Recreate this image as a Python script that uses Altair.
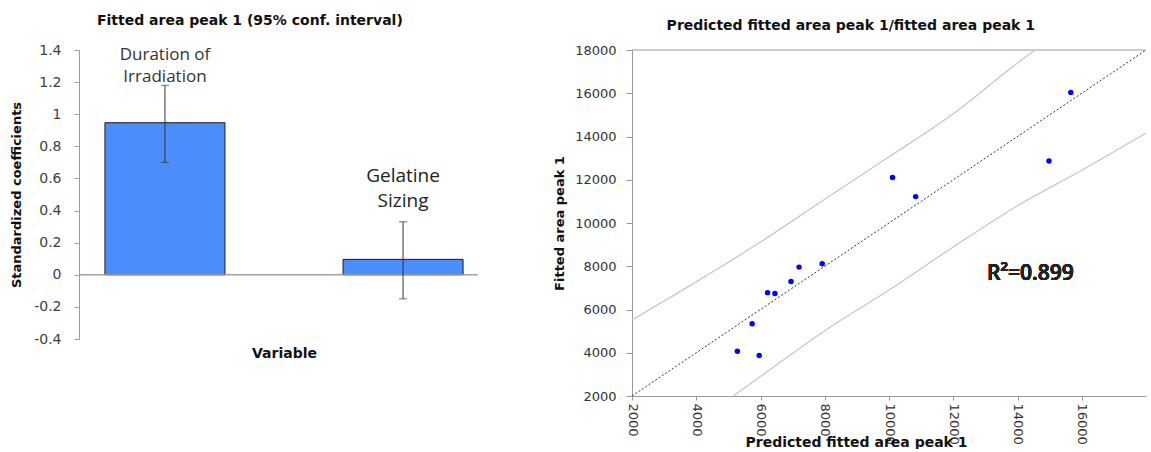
import altair as alt
import pandas as pd

# ---------------- left panel data ----------------
variables = ["Duration of Irradiation", "Gelatine Sizing"]
coefficients = [0.947, 0.096]
ci_low = [0.70, -0.15]
ci_high = [1.18, 0.33]
bar_labels = ["Duration of\nIrradiation", "Gelatine\nSizing"]
label_y = [1.37, 0.615]
left_ticks = [-0.4, -0.2, 0, 0.2, 0.4, 0.6, 0.8, 1.0, 1.2, 1.4]

# ---------------- right panel data ----------------
predicted = [15660, 14980, 10110, 10830, 7920, 7200, 6950, 6220, 6450, 5740, 5280, 5960]
observed = [16040, 12870, 12100, 11220, 8120, 7960, 7300, 6780, 6740, 5340, 4070, 3870]
upper_x = [2000, 4000, 6000, 8000, 10000, 12000, 14000, 14550]
upper_y = [5520, 7280, 9120, 11100, 13060, 15050, 17400, 18000]
lower_x = [5150, 6000, 8000, 10000, 12000, 14000, 16000, 18000]
lower_y = [2000, 2900, 5020, 6900, 8890, 10800, 12440, 14160]
diag = [2000, 18000]
x_ticks = [2000, 4000, 6000, 8000, 10000, 12000, 14000, 16000]
y_ticks = [2000, 4000, 6000, 8000, 10000, 12000, 14000, 16000, 18000]
r2_text = "R\u00b2=0.899"
r2_pos = (13050, 7650)

TICK_FONT = "DejaVu Sans"
TITLE_FONT = "DejaVu Sans"
LABEL_FONT = "Open Sans"
AXIS_GRAY = "#9a9a9a"

# ---------------- left chart ----------------
df_bar = pd.DataFrame({
    "Variable": variables,
    "Coefficient": coefficients,
    "Low": ci_low,
    "High": ci_high,
    "Label": bar_labels,
    "LabelY": label_y,
})

x_left = alt.X(
    "Variable:N", sort=variables,
    scale=alt.Scale(paddingInner=0.496, paddingOuter=0.109),
    axis=alt.Axis(title="Variable", labels=False, ticks=False, domain=False,
                  titleY=14, titleBaseline="middle", titleFont=TITLE_FONT,
                  titleFontSize=14, titleFontWeight="bold", titleColor="#111"),
)
y_left_scale = alt.Scale(domain=[-0.4, 1.4], nice=False, zero=False)
y_left_axis = alt.Axis(
    values=left_ticks, title="Standardized coefficients", labelOverlap=False,
    labelBound=False, labelFlush=False,
    labelExpr="replace(format(datum.value, '.1~f'), '\u2212', '-')",
    labelFont=TICK_FONT, labelFontSize=14, labelColor="#404040", labelPadding=13,
    tickSize=5, tickColor=AXIS_GRAY, domainColor=AXIS_GRAY, grid=False,
    titleFont=TITLE_FONT, titleFontSize=13, titleFontWeight="bold", titleColor="#111",
    titlePadding=10,
)

def yl(field):
    return alt.Y(field, title="Standardized coefficients", scale=y_left_scale, axis=y_left_axis)

base_left = alt.Chart(df_bar)
bars = base_left.mark_bar(color="#4A8DFB", stroke="#1a1a1a", strokeWidth=1).encode(
    x=x_left, y=yl("Coefficient:Q"))
zero_line = base_left.mark_rule(color=AXIS_GRAY, strokeWidth=1).encode(
    x=alt.value(0), x2=alt.value(399),
    y=alt.YDatum(0, scale=y_left_scale, axis=y_left_axis, title="Standardized coefficients"))
err = base_left.mark_rule(color="#333", strokeWidth=1).encode(
    x=x_left, y=yl("Low:Q"), y2="High:Q")
cap_hi = base_left.mark_tick(color="#333", size=8, thickness=1).encode(x=x_left, y=yl("High:Q"))
cap_lo = base_left.mark_tick(color="#333", size=8, thickness=1).encode(x=x_left, y=yl("Low:Q"))
lab1 = base_left.mark_text(font=LABEL_FONT, fontSize=17, lineHeight=22, color="#333",
                           baseline="middle", lineBreak="\n").encode(
    x=x_left, y=yl("LabelY:Q"), text="Label:N").transform_filter(
    alt.datum.Variable == variables[0])
lab2 = base_left.mark_text(font=LABEL_FONT, fontSize=19, lineHeight=25, color="#222",
                           baseline="middle", lineBreak="\n").encode(
    x=x_left, y=yl("LabelY:Q"), text="Label:N").transform_filter(
    alt.datum.Variable == variables[1])

left = alt.layer(bars, zero_line, err, cap_hi, cap_lo, lab1, lab2).properties(
    width=410, height=289,
    title=alt.Title("Fitted area peak 1 (95% conf. interval)", font=TITLE_FONT,
                    fontSize=14, fontWeight="bold", color="#111", anchor="middle",
                    frame="bounds", offset=15),
)

# ---------------- right chart ----------------
xs = alt.Scale(domain=[2000, 18000], nice=False, zero=False)
ys = alt.Scale(domain=[2000, 18000], nice=False, zero=False)
x_axis = alt.Axis(
    values=x_ticks, format="d", labelAngle=90, labelFont=TICK_FONT, labelFontSize=13,
    labelColor="#333", labelPadding=3, tickSize=4, tickColor=AXIS_GRAY,
    domainColor=AXIS_GRAY, grid=False, title="Predicted fitted area peak 1",
    titleFont=TITLE_FONT, titleFontSize=14, titleFontWeight="bold", titleColor="#111",
    titleY=46, titleX=224, titleBaseline="middle",
)
y_axis = alt.Axis(
    values=y_ticks, format="d", labelFont=TICK_FONT, labelFontSize=13, labelColor="#333",
    labelPadding=10, tickSize=6, tickColor=AXIS_GRAY, domainColor=AXIS_GRAY, grid=False,
    title="Fitted area peak 1", titleFont=TITLE_FONT, titleFontSize=13,
    titleFontWeight="bold", titleColor="#111", titlePadding=8,
)

def xr(field):
    return alt.X(field, scale=xs, axis=x_axis, title="Predicted fitted area peak 1")

def yr(field):
    return alt.Y(field, scale=ys, axis=y_axis, title="Fitted area peak 1")

df_pts = pd.DataFrame({"Predicted": predicted, "Observed": observed})
df_up = pd.DataFrame({"Predicted": upper_x, "Observed": upper_y})
df_lo = pd.DataFrame({"Predicted": lower_x, "Observed": lower_y})
df_diag = pd.DataFrame({"Predicted": diag, "Observed": diag})

top_frame = alt.Chart(df_diag).mark_rule(color=AXIS_GRAY, strokeWidth=1).encode(
    y=yr("max(Observed):Q"))
upper = alt.Chart(df_up).mark_line(color="#c8c8c8", strokeWidth=1.3, clip=True,
                                   interpolate="monotone").encode(
    x=xr("Predicted:Q"), y=yr("Observed:Q"))
lower = alt.Chart(df_lo).mark_line(color="#c8c8c8", strokeWidth=1.3, clip=True,
                                   interpolate="monotone").encode(
    x=xr("Predicted:Q"), y=yr("Observed:Q"))
diag_line = alt.Chart(df_diag).mark_line(color="#333", strokeWidth=1, strokeDash=[2, 2]).encode(
    x=xr("Predicted:Q"), y=yr("Observed:Q"))
points = alt.Chart(df_pts).mark_circle(size=30, color="#0000FF", opacity=1).encode(
    x=xr("Predicted:Q"), y=yr("Observed:Q"))
r2 = alt.Chart(df_pts).mark_text(text=r2_text, align="left", baseline="middle",
                                 font=LABEL_FONT, fontSize=21, fontWeight=600,
                                 color="#222").encode(
    x=alt.datum(r2_pos[0]), y=alt.datum(r2_pos[1]))

right = alt.layer(top_frame, upper, lower, diag_line, points, r2).properties(
    width=514, height=346,
    title=alt.Title("Predicted fitted area peak 1/fitted area peak 1", font=TITLE_FONT,
                    fontSize=14, fontWeight="bold", color="#111", anchor="middle",
                    frame="bounds", offset=11),
)

chart = alt.hconcat(left, right, spacing=143, bounds="flush").properties(
    padding={"left": 10, "top": 14, "right": 0, "bottom": 0},
    background="white",
).configure_view(stroke="transparent", strokeWidth=0)

chart.save("out.html", embed_options={"renderer": "svg", "actions": False})
